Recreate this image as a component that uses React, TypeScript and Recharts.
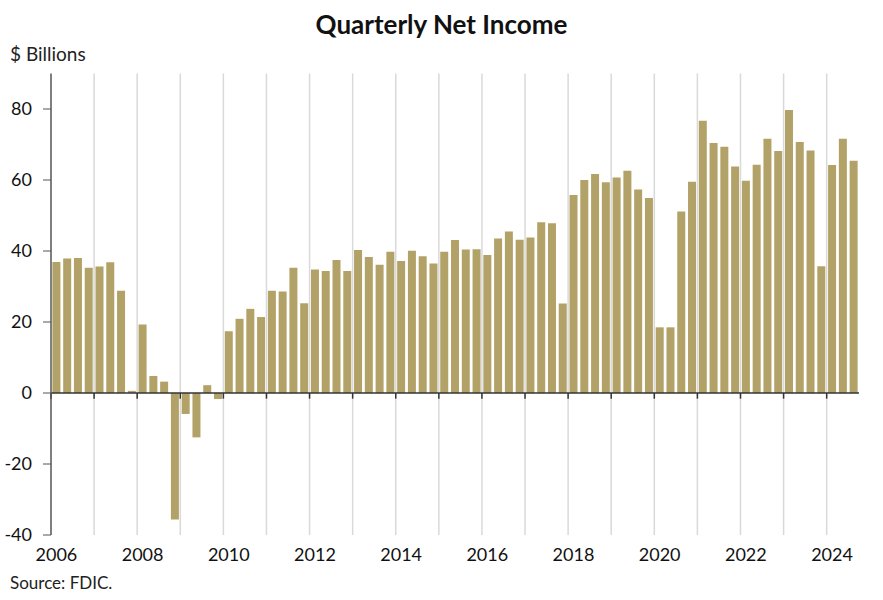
import React from 'react';
import { BarChart, Bar, XAxis, YAxis, ReferenceLine } from 'recharts';

const years: number[] = [2006, 2007, 2008, 2009, 2010, 2011, 2012, 2013, 2014, 2015, 2016, 2017, 2018, 2019, 2020, 2021, 2022, 2023, 2024];
const quarterNames: string[] = ['Q1', 'Q2', 'Q3', 'Q4'];

// Quarterly net income, $ billions, 2006Q1 .. 2024Q3
const netIncome: number[] = [
  36.9, 37.9, 38.0, 35.3,
  35.6, 36.8, 28.8, 0.6,
  19.3, 4.8, 3.2, -35.6,
  -5.9, -12.5, 2.2, -1.7,
  17.4, 20.9, 23.7, 21.4,
  28.8, 28.6, 35.3, 25.3,
  34.8, 34.4, 37.5, 34.4,
  40.3, 38.3, 36.1, 39.8,
  37.2, 40.1, 38.5, 36.5,
  39.8, 43.1, 40.4, 40.5,
  38.9, 43.5, 45.5, 43.2,
  43.8, 48.1, 47.8, 25.2,
  55.8, 60.0, 61.7, 59.4,
  60.7, 62.6, 57.3, 54.9,
  18.5, 18.5, 51.1, 59.5,
  76.7, 70.4, 69.4, 63.8,
  59.8, 64.3, 71.6, 68.2,
  79.7, 70.7, 68.3, 35.7,
  64.2, 71.6, 65.4,
];

const yTicks: number[] = [-40, -20, 0, 20, 40, 60, 80];
const labelYears: number[] = [2006, 2008, 2010, 2012, 2014, 2016, 2018, 2020, 2022, 2024];

const quarterLabels: string[] = [];
years.forEach((y) => quarterNames.forEach((q) => quarterLabels.push(`${y}${q}`)));

const data = netIncome.map((v, i) => ({ quarter: quarterLabels[i], value: v }));

const FONT = 'Lato, "Noto Sans", sans-serif';
const BAR_COLOR = '#B3A267';

export default function App() {
  return (
    <div style={{ position: 'absolute', left: 0, top: 0, width: 883, height: 600, background: '#fff', fontFamily: FONT }}>
      <div style={{ position: 'absolute', left: 0, width: 883, top: 10, textAlign: 'center', fontSize: 26, lineHeight: '28px', fontWeight: 700, color: '#111' }}>
        Quarterly Net Income
      </div>
      <div style={{ position: 'absolute', left: 10, top: 43, fontSize: 19, lineHeight: '21px', color: '#222' }}>$ Billions</div>
      <div style={{ position: 'absolute', left: 10, top: 573, fontSize: 17, lineHeight: '19px', color: '#222' }}>Source: FDIC.</div>
      <BarChart
        width={883}
        height={600}
        data={data}
        margin={{ top: 73.5, right: 24, bottom: 0, left: 0 }}
        barCategoryGap="13%"
        style={{ position: 'absolute', left: 0, top: 0 }}
      >
        <XAxis
          dataKey="quarter"
          type="category"
          ticks={labelYears.map((y) => `${y}Q1`)}
          interval={0}
          tickFormatter={(v: string) => v.slice(0, 4)}
          axisLine={false}
          tickLine={false}
          tickSize={0}
          tickMargin={13}
          height={65}
          tick={{ fill: '#111', fontSize: 18, fontFamily: FONT }}
        />
        <YAxis
          type="number"
          domain={[-40, 90]}
          ticks={yTicks}
          interval={0}
          width={51}
          axisLine={{ stroke: '#555', strokeWidth: 1.5 }}
          tickLine={{ stroke: '#555', strokeWidth: 1 }}
          tickSize={8}
          tickMargin={11}
          tick={{ fill: '#111', fontSize: 18, fontFamily: FONT }}
        />
        {years.slice(1).map((y) => (
          <ReferenceLine key={`g${y}`} x={`${y}Q1`} position="start" stroke="#d9d9d9" strokeWidth={1.5} />
        ))}
        <Bar dataKey="value" fill={BAR_COLOR} isAnimationActive={false} />
        <ReferenceLine y={0} stroke="#333" strokeWidth={1.5} />
        {years.map((y) => (
          <ReferenceLine
            key={`t${y}`}
            position="start"
            segment={[{ x: `${y}Q1`, y: 0 }, { x: `${y}Q1`, y: -1.6 }]}
            stroke="#333"
            strokeWidth={1.5}
          />
        ))}
      </BarChart>
    </div>
  );
}
